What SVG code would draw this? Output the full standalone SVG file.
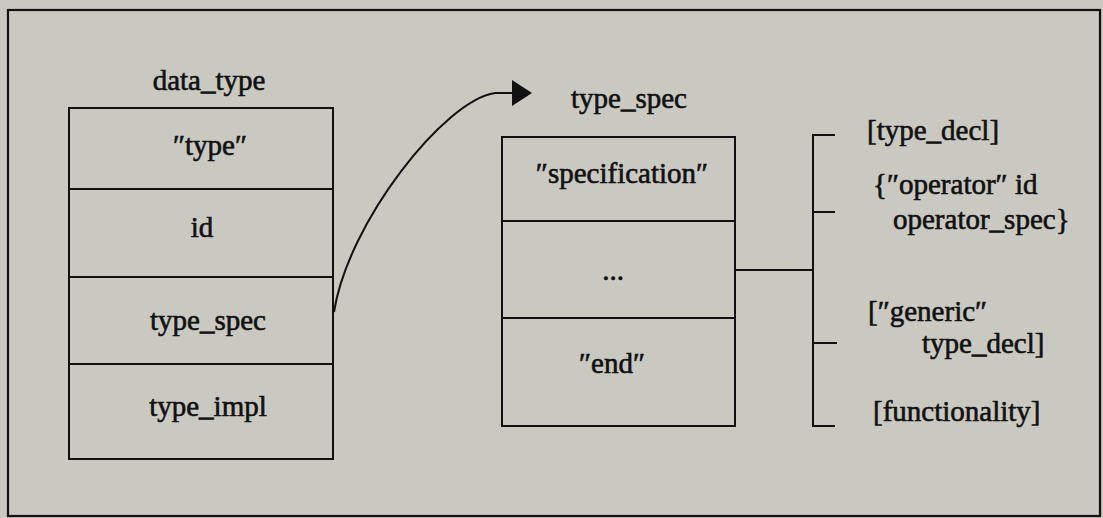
<svg xmlns="http://www.w3.org/2000/svg" width="1103" height="518" viewBox="0 0 1103 518">
  <style>
    .frame { fill: none; stroke: #111; stroke-width: 2.2; }
    .cell { fill: none; stroke: #111; stroke-width: 2; }
    .wire { fill: none; stroke: #111; stroke-width: 2; }
    text { font-family: "Liberation Serif", "Times New Roman", Times, Tinos, "Nimbus Roman", "DejaVu Serif", "Noto Serif", serif; font-size: 29px; fill: #111; stroke: #111; stroke-width: 0.6; }
    .mid { text-anchor: middle; }
  </style>
  <defs>
    <marker id="head" markerUnits="userSpaceOnUse" markerWidth="22" markerHeight="28" refX="0" refY="13" orient="auto">
      <polygon points="0,0 20,13 0,26" fill="#111"/>
    </marker>
  </defs>

  <!-- paper and outer frame -->
  <rect x="0" y="0" width="1103" height="518" fill="#c9c9c1"/>
  <rect class="frame" x="8" y="10" width="1092" height="506"/>

  <!-- data_type record -->
  <g id="data_type">
    <text class="mid" x="209" y="90">data_type</text>
    <rect class="cell" x="69" y="108" width="264" height="351"/>
    <line class="cell" x1="69" y1="189" x2="333" y2="189"/>
    <line class="cell" x1="69" y1="277" x2="333" y2="277"/>
    <line class="cell" x1="69" y1="364" x2="333" y2="364"/>
    <text class="mid" x="210" y="155">″type″</text>
    <text class="mid" x="202" y="237">id</text>
    <text class="mid" x="208" y="330">type_spec</text>
    <text class="mid" x="208" y="416">type_impl</text>
  </g>

  <!-- type_spec record -->
  <g id="type_spec">
    <text class="mid" x="629" y="108">type_spec</text>
    <rect class="cell" x="502" y="137" width="233" height="289"/>
    <line class="cell" x1="502" y1="221" x2="735" y2="221"/>
    <line class="cell" x1="502" y1="318" x2="735" y2="318"/>
    <text class="mid" x="622" y="183">″specification″</text>
    <text class="mid" x="613" y="280">...</text>
    <text class="mid" x="612" y="373">″end″</text>
  </g>

  <!-- alternatives listed for the "..." part -->
  <g id="alternatives">
    <text x="867" y="140">[type_decl]</text>
    <text x="873" y="194">{″operator″ id</text>
    <text x="893" y="229">operator_spec}</text>
    <text x="868" y="321">[″generic″</text>
    <text x="922" y="353">type_decl]</text>
    <text x="873" y="421">[functionality]</text>
  </g>

  <!-- connectors -->
  <g id="connectors">
    <path class="wire" d="M334,312 C348,222 445,100 495,93 L512,93" marker-end="url(#head)"/>
    <line class="wire" x1="735" y1="270" x2="813" y2="270"/>
    <line class="wire" x1="813" y1="135" x2="813" y2="426"/>
    <line class="wire" x1="812" y1="135" x2="835" y2="135"/>
    <line class="wire" x1="812" y1="212" x2="835" y2="212"/>
    <line class="wire" x1="812" y1="343" x2="837" y2="343"/>
    <line class="wire" x1="812" y1="426" x2="835" y2="426"/>
  </g>
</svg>
